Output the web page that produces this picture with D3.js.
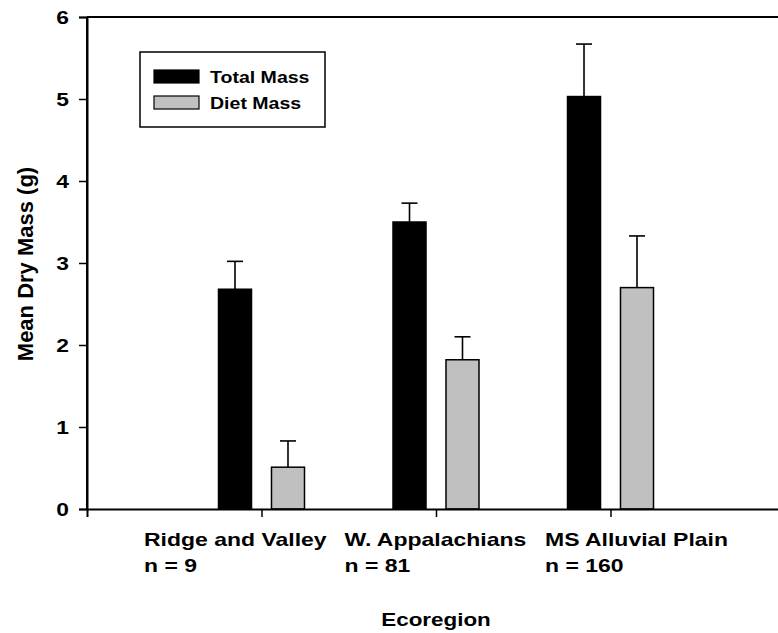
<!DOCTYPE html>
<html>
<head>
<meta charset="utf-8">
<script src="https://cdn.jsdelivr.net/npm/d3@7"></script>
<style>
  body { margin: 0; background: #fff; }
  text { font-family: "Liberation Sans", Arial, sans-serif; font-weight: bold; fill: #000; }
</style>
</head>
<body>
<div id="chart"></div>
<script>
var categories = ["Ridge and Valley", "W. Appalachians", "MS Alluvial Plain"];
var sampleSizes = ["n = 9", "n = 81", "n = 160"];
var seriesNames = ["Total Mass", "Diet Mass"];
var totalMass = [2.68, 3.50, 5.03];
var totalErr = [0.34, 0.23, 0.64];
var dietMass = [0.51, 1.82, 2.70];
var dietErr = [0.32, 0.28, 0.63];
var yTicks = [0, 1, 2, 3, 4, 5, 6];

var svg_width = 778, svg_height = 633;
var margin = ({top: 17, left: 87, bottom: 124});
var SX = 1.2; // text in the picture is a bit wide

var colors = {"Total Mass": "#000000", "Diet Mass": "#c0c0c0"};

var rows = [];
categories.forEach((c, i) => {
    rows.push({cat: c, i: i, key: "Total Mass", v: totalMass[i], e: totalErr[i]});
    rows.push({cat: c, i: i, key: "Diet Mass", v: dietMass[i], e: dietErr[i]});
});

// 5 slots on x, groups sit on slots 1..3
var x = d3.scaleLinear()
    .domain([0, 4])
    .range([margin.left, margin.left + 4 * 174.5]);

var inner = d3.scaleBand()
    .domain(seriesNames)
    .range([-43, 43])
    .paddingInner(0.377);

var y = d3.scaleLinear()
    .domain([0, 6])
    .range([svg_height - margin.bottom, margin.top]);

var labelX = d3.scalePoint()
    .domain(categories)
    .range([144, 545]);

const svg = d3.select("#chart")
    .append("svg")
    .attr("width", svg_width)
    .attr("height", svg_height);

function wideText(parent, tx, ty, str, size, anchor, sx) {
    return parent.append("text")
        .attr("transform", `translate(${tx},${ty}) scale(${sx || SX},1)`)
        .attr("font-size", size + "px")
        .attr("text-anchor", anchor || "start")
        .text(str);
}

// bars
svg.append("g")
    .selectAll("rect")
    .data(rows)
    .join("rect")
      .attr("x", d => x(d.i + 1) + inner(d.key))
      .attr("y", d => y(d.v))
      .attr("width", inner.bandwidth())
      .attr("height", d => y(0) - y(d.v))
      .attr("fill", d => colors[d.key])
      .attr("stroke", "#000")
      .attr("stroke-width", 1.5);

// error bars (upper only)
var eb = svg.append("g")
    .attr("stroke", "#000")
    .attr("stroke-width", 1.6);
eb.selectAll("line.v")
    .data(rows)
    .join("line")
      .attr("class", "v")
      .attr("x1", d => x(d.i + 1) + inner(d.key) + inner.bandwidth() / 2)
      .attr("x2", d => x(d.i + 1) + inner(d.key) + inner.bandwidth() / 2)
      .attr("y1", d => y(d.v))
      .attr("y2", d => y(d.v + d.e));
eb.selectAll("line.cap")
    .data(rows)
    .join("line")
      .attr("class", "cap")
      .attr("x1", d => x(d.i + 1) + inner(d.key) + inner.bandwidth() / 2 - 8)
      .attr("x2", d => x(d.i + 1) + inner(d.key) + inner.bandwidth() / 2 + 8)
      .attr("y1", d => y(d.v + d.e))
      .attr("y2", d => y(d.v + d.e));

// frame: left, top
var frame = svg.append("g").attr("stroke", "#000").attr("stroke-width", 2);
frame.append("line").attr("x1", x(0)).attr("x2", x(0)).attr("y1", y(6)).attr("y2", y(0));
frame.append("line").attr("x1", x(0)).attr("x2", x(4)).attr("y1", y(6)).attr("y2", y(6));

// x axis
var xAxis = svg.append("g")
    .attr("transform", `translate(0,${y(0)})`)
    .call(d3.axisBottom(x).tickValues([1, 2, 3]).tickSize(8).tickFormat(""));
xAxis.select(".domain").attr("stroke-width", 2);
xAxis.selectAll(".tick line").attr("stroke-width", 1.5);

// y axis
var yAxis = svg.append("g")
    .attr("transform", `translate(${x(0)},0)`)
    .call(d3.axisLeft(y).tickValues(yTicks).tickSize(8).tickFormat(""));
yAxis.select(".domain").attr("stroke-width", 2);
yAxis.selectAll(".tick line").attr("stroke-width", 1.5);

yTicks.forEach(t => {
    wideText(svg, 69, y(t) + 7, String(t), 19, "end");
});

// category labels
categories.forEach((c, i) => {
    wideText(svg, labelX(c), 546, c, 19, "start", 1.21);
    wideText(svg, labelX(c), 572, sampleSizes[i], 19, "start", 1.21);
});

// axis titles
wideText(svg, 436, 626, "Ecoregion", 19, "middle", 1.18);
svg.append("text")
    .attr("transform", "translate(33,264) rotate(-90)")
    .attr("font-size", "22px")
    .attr("text-anchor", "middle")
    .text("Mean Dry Mass (g)");

// legend
var legend = svg.append("g");
legend.append("rect")
    .attr("x", 140).attr("y", 52)
    .attr("width", 185).attr("height", 75)
    .attr("fill", "#fff")
    .attr("stroke", "#000")
    .attr("stroke-width", 1.5);
seriesNames.forEach((s, i) => {
    legend.append("rect")
        .attr("x", 154).attr("y", 70 + i * 26)
        .attr("width", 45).attr("height", 13)
        .attr("fill", colors[s])
        .attr("stroke", "#000")
        .attr("stroke-width", 1.2);
    wideText(legend, 210, 83 + i * 26, s, 17, "start", 1.15);
});
</script>
</body>
</html>
